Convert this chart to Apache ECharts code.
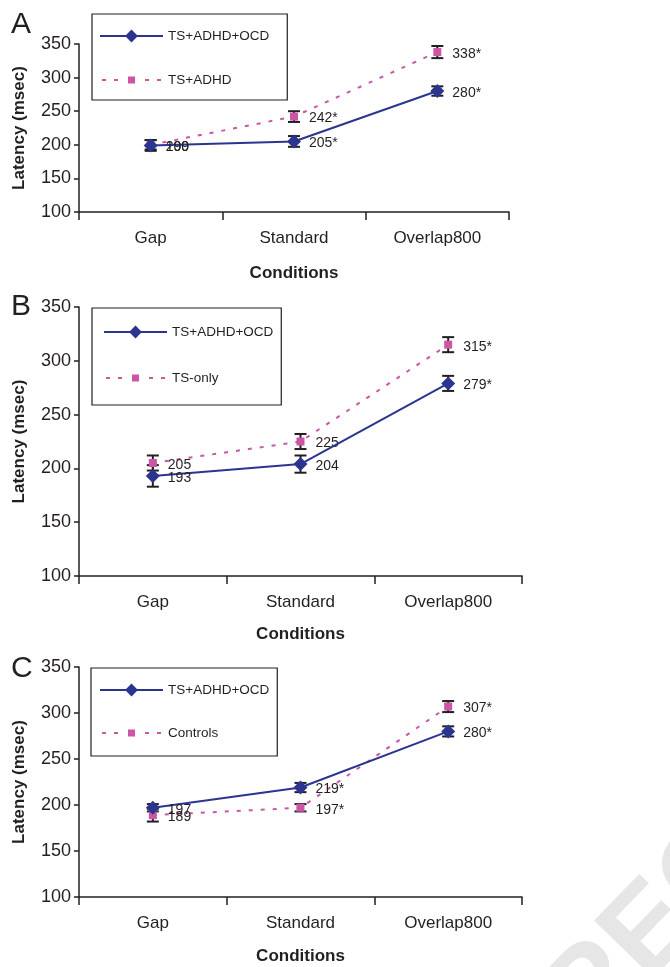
<!DOCTYPE html>
<html>
<head>
<meta charset="utf-8">
<script src="https://cdn.jsdelivr.net/npm/echarts@6/dist/echarts.min.js"></script>
<style>html,body{margin:0;padding:0;background:#fff}#c{width:670px;height:967px}</style>
</head>
<body>
<div id="c"></div>
<script>
// ---- data ----
const categories = ['Gap', 'Standard', 'Overlap800'];
const yTicks = [100, 150, 200, 250, 300, 350];
const comorbidName = 'TS+ADHD+OCD';
const panelNames = ['A', 'B', 'C'];
const compareNames = ['TS+ADHD', 'TS-only', 'Controls'];

const comorbidA = [199, 205, 280];
const comorbidAErr = [8, 8, 7];
const comorbidALabels = ['199', '205*', '280*'];
const tsAdhdA = [200, 242, 338];
const tsAdhdAErr = [7, 8, 9];
const tsAdhdALabels = ['200', '242*', '338*'];

const comorbidB = [193, 204, 279];
const comorbidBErr = [10, 8, 7];
const comorbidBLabels = ['193', '204', '279*'];
const tsOnlyB = [205, 225, 315];
const tsOnlyBErr = [7, 7, 7];
const tsOnlyBLabels = ['205', '225', '315*'];

const comorbidC = [197, 219, 280];
const comorbidCErr = [4, 5, 5.5];
const comorbidCLabels = ['197', '219*', '280*'];
const controlsC = [189, 197, 307];
const controlsCErr = [7, 4, 6];
const controlsCLabels = ['189', '197*', '307*'];

// ---- styling / layout ----
const BLUE = '#2b3590';
const PINK = '#cc55a6';
const INK = '#231f20';
const SANS = "'Liberation Sans',Arial,sans-serif";

const grids = [
  {left: 79, right: 161, top: 44, height: 168, outerBoundsMode: 'none'},
  {left: 79, right: 148, top: 307, height: 269, outerBoundsMode: 'none'},
  {left: 79, right: 148, top: 667, height: 230, outerBoundsMode: 'none'}
];
const nameGapsX = [53, 50, 51];
const legendBoxes = [
  {left: 92, top: 14, padding: [15, 18, 12, 7], itemGap: 29},
  {left: 92, top: 308, padding: [17, 8, 19, 11], itemGap: 31},
  {left: 91, top: 668, padding: [15, 8, 15, 8], itemGap: 28}
];
const letterY = [25, 307, 669];

const panels = [
  {c: comorbidA, cE: comorbidAErr, cL: comorbidALabels, o: tsAdhdA, oE: tsAdhdAErr, oL: tsAdhdALabels},
  {c: comorbidB, cE: comorbidBErr, cL: comorbidBLabels, o: tsOnlyB, oE: tsOnlyBErr, oL: tsOnlyBLabels},
  {c: comorbidC, cE: comorbidCErr, cL: comorbidCLabels, o: controlsC, oE: controlsCErr, oL: controlsCLabels}
];

// pink legend icon: dashes + small square, box 63 x 16
const pinkIcon = 'path://M0 0L0 0M63 16L63 16' +
  'M2 7H6V9H2Z M14 7H18V9H14Z M45 7H49V9H45Z M57 7H61V9H57Z' +
  'M28 4.5H35V11.5H28Z';

function errRender(params, api) {
  const x = api.value(0);
  const lo = api.coord([x, api.value(1)]);
  const hi = api.coord([x, api.value(2)]);
  const hw = 6;
  const st = {stroke: INK, lineWidth: 2};
  return {type: 'group', children: [
    {type: 'line', shape: {x1: lo[0], y1: lo[1], x2: hi[0], y2: hi[1]}, style: st},
    {type: 'line', shape: {x1: lo[0] - hw, y1: lo[1], x2: lo[0] + hw, y2: lo[1]}, style: st},
    {type: 'line', shape: {x1: hi[0] - hw, y1: hi[1], x2: hi[0] + hw, y2: hi[1]}, style: st}
  ]};
}

const option = {
  animation: false,
  backgroundColor: '#fff',
  textStyle: {fontFamily: SANS, color: INK},
  grid: grids,
  xAxis: grids.map((g, i) => ({
    type: 'category', gridIndex: i, data: categories, boundaryGap: true,
    axisLine: {lineStyle: {color: INK, width: 1.5}},
    axisTick: {show: true, length: 8, lineStyle: {color: INK, width: 1.5}},
    axisLabel: {color: INK, fontSize: 17, fontFamily: SANS, margin: 18},
    name: 'Conditions', nameLocation: 'middle', nameGap: nameGapsX[i],
    nameTextStyle: {color: INK, fontSize: 17, fontWeight: 'bold', fontFamily: SANS}
  })),
  yAxis: grids.map((g, i) => ({
    type: 'value', gridIndex: i, min: yTicks[0], max: yTicks[yTicks.length - 1], interval: 50,
    splitLine: {show: false},
    axisLine: {show: true, lineStyle: {color: INK, width: 1.5}},
    axisTick: {show: true, length: 5, lineStyle: {color: INK, width: 1.5}},
    axisLabel: {color: INK, fontSize: 18, fontFamily: SANS, margin: 8},
    name: 'Latency (msec)', nameLocation: 'middle', nameGap: 51,
    nameTextStyle: {color: INK, fontSize: 17, fontWeight: 'bold', fontFamily: SANS}
  })),
  legend: legendBoxes.map((b, i) => ({
    orient: 'vertical', left: b.left, top: b.top, padding: b.padding, itemGap: b.itemGap,
    itemWidth: 63, itemHeight: 16, selectedMode: false,
    borderColor: INK, borderWidth: 1.2,
    textStyle: {color: INK, fontSize: 13.5, fontFamily: SANS},
    data: [
      {name: comorbidName},
      {name: compareNames[i], icon: pinkIcon, itemStyle: {color: PINK, borderWidth: 0}}
    ],
    symbolKeepAspect: false
  })),
  graphic: [
    {type: 'text', x: 652, y: 932, z: -10, silent: true, rotation: 0.8,
     style: {text: 'REC', fontSize: 120, fontWeight: 'bold', fontFamily: SANS, fill: '#e6e6e6',
             textAlign: 'center', textVerticalAlign: 'middle'}}
  ].concat(panelNames.map((p, i) => ({
    type: 'text', x: 11, y: letterY[i], z: 10,
    style: {text: p, fontSize: 30, fontFamily: SANS, fill: INK, textVerticalAlign: 'middle'}
  }))),
  series: []
};

panels.forEach((p, i) => {
  option.series.push({
    type: 'custom', xAxisIndex: i, yAxisIndex: i, z: 1, silent: true,
    renderItem: errRender, encode: {x: 0, y: [1, 2]},
    data: categories.map((c, k) => [k, p.o[k] - p.oE[k], p.o[k] + p.oE[k]])
  });
  option.series.push({
    type: 'custom', xAxisIndex: i, yAxisIndex: i, z: 1, silent: true,
    renderItem: errRender, encode: {x: 0, y: [1, 2]},
    data: categories.map((c, k) => [k, p.c[k] - p.cE[k], p.c[k] + p.cE[k]])
  });
  option.series.push({
    name: compareNames[i], type: 'line', xAxisIndex: i, yAxisIndex: i, z: 3,
    data: p.o, symbol: 'rect', symbolSize: 8, color: PINK,
    lineStyle: {color: PINK, width: 2, type: [4, 8]},
    itemStyle: {color: PINK},
    label: {show: true, position: 'right', distance: 11, offset: [0, 2], color: INK,
            fontSize: 14, fontFamily: SANS, formatter: (d) => p.oL[d.dataIndex]}
  });
  option.series.push({
    name: comorbidName, type: 'line', xAxisIndex: i, yAxisIndex: i, z: 4,
    data: p.c, symbol: 'diamond', symbolSize: 14, color: BLUE,
    lineStyle: {color: BLUE, width: 2},
    itemStyle: {color: BLUE},
    label: {show: true, position: 'right', distance: 8, offset: [0, 2], color: INK,
            fontSize: 14, fontFamily: SANS, formatter: (d) => p.cL[d.dataIndex]}
  });
});

const chart = echarts.init(document.getElementById('c'), null, {renderer: 'canvas'});
chart.setOption(option);
</script>
</body>
</html>
